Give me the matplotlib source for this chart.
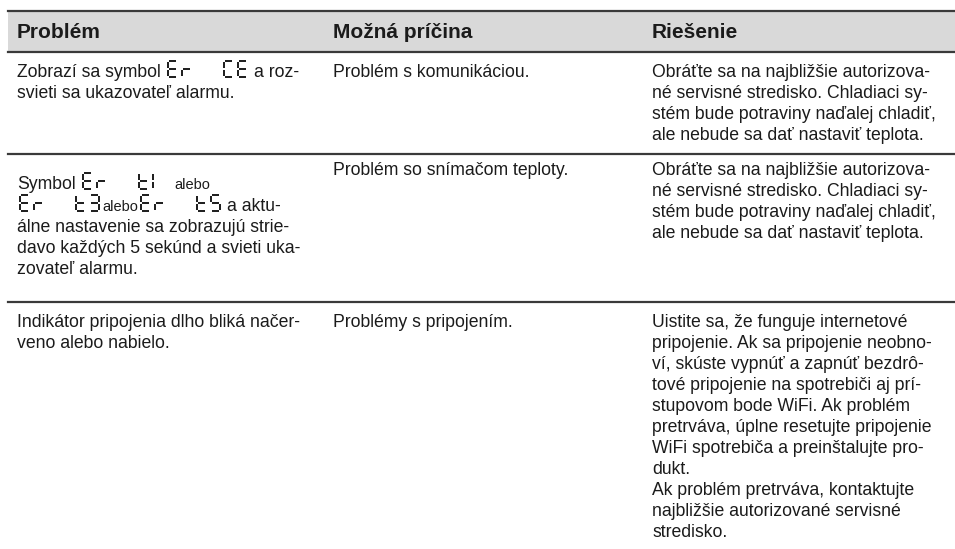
import re
import matplotlib
matplotlib.use("Agg")
import matplotlib.pyplot as plt

plt.rcParams['font.family'] = ['Liberation Sans', 'DejaVu Sans']

# table content (original line breaks kept)
# {..} = seven-segment display code, [..] = small inline text
headers = ["Problém", "Možná príčina", "Riešenie"]

problems = [
    ["Zobrazí sa symbol {Er  CE} a roz-",
     "svieti sa ukazovateľ alarmu."],
    ["Symbol {Er  t1} [alebo]",
     "{Er  t3}[alebo]{Er  t5} a aktu-",
     "álne nastavenie sa zobrazujú strie-",
     "davo každých 5 sekúnd a svieti uka-",
     "zovateľ alarmu."],
    ["Indikátor pripojenia dlho bliká načer-",
     "veno alebo nabielo."],
]

causes = [
    ["Problém s komunikáciou."],
    ["Problém so snímačom teploty."],
    ["Problémy s pripojením."],
]

solutions = [
    ["Obráťte sa na najbližšie autorizova-",
     "né servisné stredisko. Chladiaci sy-",
     "stém bude potraviny naďalej chladiť,",
     "ale nebude sa dať nastaviť teplota."],
    ["Obráťte sa na najbližšie autorizova-",
     "né servisné stredisko. Chladiaci sy-",
     "stém bude potraviny naďalej chladiť,",
     "ale nebude sa dať nastaviť teplota."],
    ["Uistite sa, že funguje internetové",
     "pripojenie. Ak sa pripojenie neobno-",
     "ví, skúste vypnúť a zapnúť bezdrô-",
     "tové pripojenie na spotrebiči aj prí-",
     "stupovom bode WiFi. Ak problém",
     "pretrváva, úplne resetujte pripojenie",
     "WiFi spotrebiča a preinštalujte pro-",
     "dukt.",
     "Ak problém pretrváva, kontaktujte",
     "najbližšie autorizované servisné",
     "stredisko."],
]

# segments lit for each display character (a top, b top-right, c bottom-right,
# d bottom, e bottom-left, f top-left, g middle)
SEGMENTS = {
    'E': 'adefg', 'r': 'eg', 'C': 'adef', 't': 'defg',
    '1': 'ef', '3': 'abcdg', '5': 'acdfg', ' ': '',
}

W, H = 955, 549
fig = plt.figure(figsize=(W / 100, H / 100), dpi=100)
ax = fig.add_axes([0, 0, 1, 1])
ax.set_xlim(0, W)
ax.set_ylim(H, 0)
ax.axis('off')
renderer = fig.canvas.get_renderer()

TXT = '#1b1b1b'
LINE = '#3a3a3a'
BODY = 12.7
SMALL = 10.5
HEAD = 15
col_x = [17, 333, 652]
row_top = [52, 154, 302]
first_base = [77, 175, 327]
first_base_sym = [77, 189, 327]
LEAD = 21
SPACE = 4.5

seg_w, seg_h, pitch = 9, 16, 14


def draw_display(x, base, code):
    for i, ch in enumerate(code):
        x0 = x + i * pitch
        x1 = x0 + seg_w
        yt, ym, yb = base - seg_h, base - seg_h / 2, base
        g = 1.0
        segs = {
            'a': ([x0 + g, x1 - g], [yt, yt]),
            'b': ([x1, x1], [yt + g, ym - g]),
            'c': ([x1, x1], [ym + g, yb - g]),
            'd': ([x0 + g, x1 - g], [yb, yb]),
            'e': ([x0, x0], [ym + g, yb - g]),
            'f': ([x0, x0], [yt + g, ym - g]),
            'g': ([x0 + g, x1 - g], [ym, ym]),
        }
        for s in SEGMENTS.get(ch, ''):
            xs, ys = segs[s]
            ax.plot(xs, ys, color=TXT, lw=1.4, solid_capstyle='butt')
    return (len(code) - 1) * pitch + seg_w


def put_text(x, base, s, size):
    t = ax.text(x, base, s, fontsize=size, color=TXT, ha='left', va='baseline')
    return t.get_window_extent(renderer).width


def draw_line(x, base, line):
    for tok in re.split(r'(\{[^}]*\}|\[[^\]]*\])', line):
        if not tok:
            continue
        if tok.startswith('{'):
            x += 2.5
            x += draw_display(x, base, tok[1:-1])
            x += 2.5
            continue
        if tok.startswith('['):
            x += 1
            x += put_text(x, base, tok[1:-1], SMALL)
            x += 1
            continue
        if tok.startswith(' '):
            x += SPACE
        body = tok.strip()
        if body:
            x += put_text(x, base, body, BODY)
        if tok.endswith(' '):
            x += SPACE


def draw_cell(x, r, lines):
    has_sym = '{' in lines[0]
    base = first_base_sym[r] if has_sym else first_base[r]
    for i, line in enumerate(lines):
        if i > 0:
            base += LEAD + (1 if '{' in line else 0)
        draw_line(x, base, line)


# header band
ax.fill_between([8, W], 11, 52, color='#d9d9d9', lw=0)
ax.plot([8, W], [11, 11], color=LINE, lw=1.6)
ax.plot([8, W], [52, 52], color=LINE, lw=1.6)
for x, h in zip(col_x, headers):
    ax.text(x, 38, h, fontsize=HEAD, fontweight='bold', color=TXT,
            ha='left', va='baseline')

# row dividers
for y in row_top[1:]:
    ax.plot([8, W], [y, y], color=LINE, lw=1.6)

for r in range(3):
    draw_cell(col_x[0], r, problems[r])
    draw_cell(col_x[1], r, causes[r])
    draw_cell(col_x[2], r, solutions[r])

fig.savefig('out.png', dpi=100)
